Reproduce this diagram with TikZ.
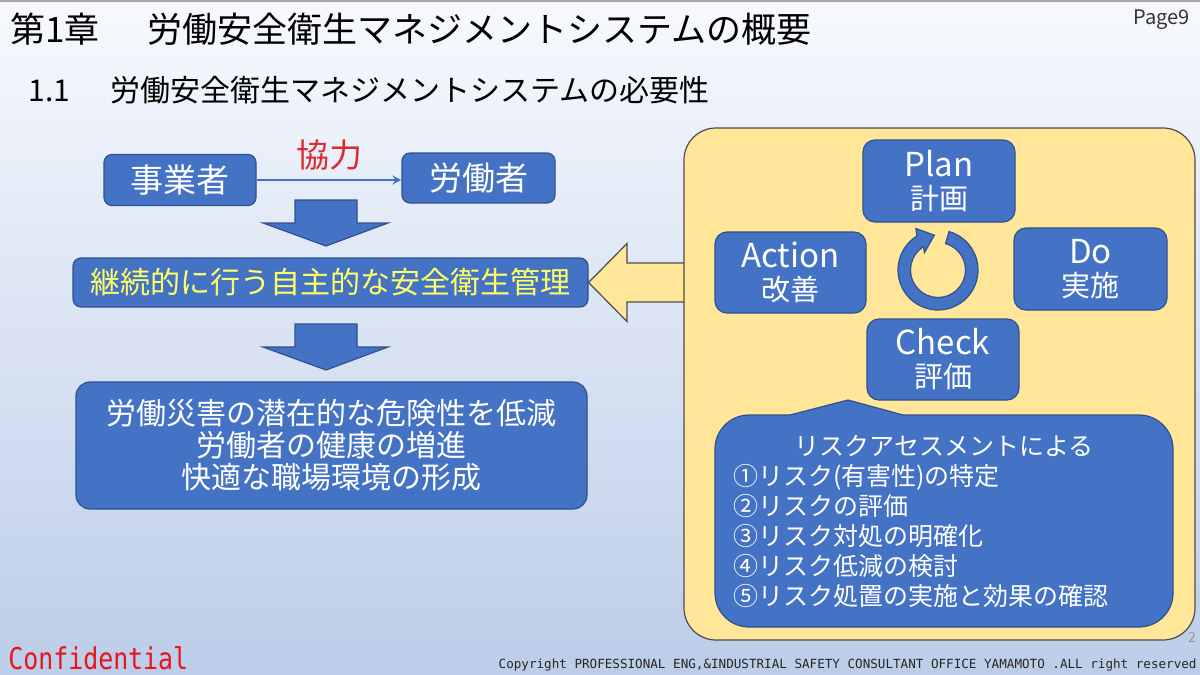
\documentclass[tikz,border=0pt]{standalone}
\usepackage{fontspec}
\setmainfont{Noto Sans CJK JP}
\newfontfamily\footmono{DejaVu Sans Mono}

\definecolor{pdcablue}{HTML}{4472C4}
\definecolor{pdcaline}{HTML}{2F528F}
\definecolor{panelyellow}{HTML}{FFE699}
\definecolor{kyoryokured}{HTML}{DC2A2E}
\definecolor{notered}{HTML}{E8141E}
\definecolor{textyellow}{HTML}{FFFF66}
\definecolor{bgtop}{HTML}{F7F9FD}
\definecolor{bgbottom}{HTML}{BCCDE9}

\newcommand{\pdcajp}[1]{{\fontsize{14.5pt}{16.5pt}\selectfont #1}}

\begin{document}
\begin{tikzpicture}[
    x=0.5pt, y=-0.5pt,
    bluebox/.style={rectangle, rounded corners=4pt, draw=pdcaline, fill=pdcablue,
                    line width=0.6pt, text=white, align=center, inner sep=0pt},
    pdcabox/.style={bluebox, rounded corners=6pt, minimum width=76pt, minimum height=41pt,
                    font=\fontsize{16.5pt}{16.5pt}\selectfont},
    blockarrow/.style={draw=pdcaline, fill=pdcablue, line width=0.6pt},
    bigarrow/.style={draw=black!70, fill=panelyellow, line width=0.6pt},
    link/.style={->, >=stealth, line width=1pt, draw=pdcablue},
    label/.style={font=\fontsize{16.5pt}{16.5pt}\selectfont, text=kyoryokured}
]
\useasboundingbox (0,0) rectangle (1200,675);

% Sfondo
\shade[top color=bgtop, bottom color=bgbottom] (0,0) rectangle (1200,675);
\draw[black!35, line width=1pt] (0,1) -- (1200,1);

% Titoli
\node[anchor=west, inner sep=0pt, font=\fontsize{17.5pt}{17.5pt}\selectfont] at (10,29) (title)
    {第1章\hspace{24pt}労働安全衛生マネジメントシステムの概要};
\node[anchor=west, inner sep=0pt, font=\fontsize{15pt}{15pt}\selectfont] at (28,90) (subtitle)
    {1.1\hspace{20pt}労働安全衛生マネジメントシステムの必要性};
\node[anchor=east, inner sep=0pt, text=black!80, font=\fontsize{10pt}{10pt}\selectfont] at (1190,20) (page) {Page9};

% Lato sinistro
\node[bluebox, minimum width=76pt, minimum height=25.5pt, font=\fontsize{16.5pt}{16.5pt}\selectfont]
    at (180,180) (jigyo) {事業者};
\node[bluebox, minimum width=76.5pt, minimum height=25pt, font=\fontsize{16.5pt}{16.5pt}\selectfont]
    at (478.5,178) (rodo) {労働者};
\draw[link] (jigyo.east) -- node[label, above=1pt] (kyoryoku) {協力} (rodo.west |- jigyo.east);

\node[bluebox, minimum width=257.5pt, minimum height=24.5pt, text=textyellow,
      font=\fontsize{15pt}{15pt}\selectfont] at (330.5,282.5) (keizoku) {継続的に行う自主的な安全衛生管理};

\node[bluebox, rounded corners=7pt, minimum width=255.5pt, minimum height=63.5pt,
      font=\fontsize{15pt}{16pt}\selectfont] at (331.5,445.5) (result) {
    労働災害の潜在的な危険性を低減\\
    労働者の健康の増進\\
    快適な職場環境の形成
};

% Frecce in giu
\foreach \y in {200,324} {
    \draw[blockarrow] (295,\y) -- (357,\y) -- (357,\y+23) -- (388,\y+23) -- (326,\y+46)
        -- (263,\y+23) -- (295,\y+23) -- cycle;
}

% Freccia gialla
\draw[bigarrow] (keizoku.east) -- (627,243.5) -- (627,263) -- (700,263) -- (700,302)
    -- (627,302) -- (627,321.5) -- cycle;

% Ciclo PDCA
\node[rectangle, rounded corners=16pt, draw=black!70, fill=panelyellow, line width=0.6pt,
      minimum width=255.5pt, minimum height=256pt] at (939.5,384) (pdca) {};

\node[pdcabox] at (939,181) (plan) {Plan\\\pdcajp{計画}};
\node[pdcabox, minimum width=75.5pt, minimum height=40.5pt] at (790.5,272.5) (action) {Action\\\pdcajp{改善}};
\node[pdcabox, minimum width=76.5pt] at (1090.5,269) (do) {Do\\\pdcajp{実施}};
\node[pdcabox, minimum height=40.5pt] at (943,359.5) (check) {Check\\\pdcajp{評価}};

\begin{scope}[shift={(938,270)}]
    \draw[blockarrow] (74:20pt) arc[start angle=74, end angle=-238, radius=20pt]
        -- (118:23.5pt) -- (96:17.5pt) -- (128:11pt) -- (122:13.75pt)
        arc[start angle=122, end angle=434, radius=13.75pt] -- cycle;
\end{scope}

% Riquadro rischi
\node[bluebox, rounded corners=17pt, minimum width=229pt, minimum height=106pt,
      text width=211pt, inner xsep=9pt, align=left,
      font=\fontsize{12.5pt}{15pt}\selectfont] at (944,521) (risk) {
    \makebox[211pt]{リスクアセスメントによる}\\
    ①リスク(有害性)の特定\\
    ②リスクの評価\\
    ③リスク対処の明確化\\
    ④リスク低減の検討\\
    ⑤リスク処置の実施と効果の確認
};
\fill[pdcablue] (790,415) -- (848,400) -- (903,415) -- (903,418) -- (790,418) -- cycle;
\draw[pdcaline, line width=0.6pt] (790,415) -- (848,400) -- (903,415);

% Piede
\node[text=black!40, inner sep=0pt, font=\fontsize{7pt}{7pt}\selectfont] at (1192,637) (pageno) {2};
\node[anchor=west, inner sep=0pt, xscale=0.83, text=notered,
      font=\footmono\fontsize{15pt}{15pt}\selectfont] at (8,658) (confidential) {Confidential};
\node[anchor=east, inner sep=0pt, text=black!85, font=\footmono\fontsize{6.3pt}{6.3pt}\selectfont]
    at (1197,665) (copyright) {Copyright PROFESSIONAL ENG,\&INDUSTRIAL SAFETY CONSULTANT OFFICE YAMAMOTO .ALL right reserved};

\end{tikzpicture}
\end{document}
